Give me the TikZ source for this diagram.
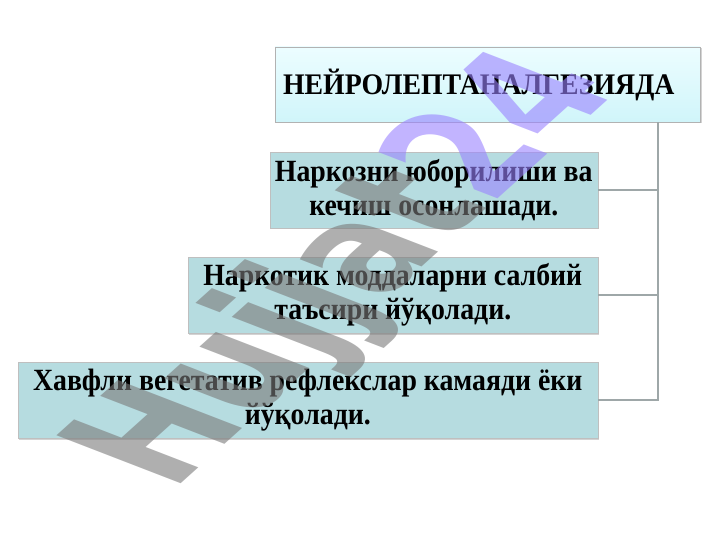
\documentclass[tikz,border=0pt]{standalone}
\usepackage{fontspec}
\setmainfont{Liberation Serif}
\newfontfamily\headfont{Liberation Serif}[FakeStretch=0.93]
\newfontfamily\boxfont{Liberation Serif}[FakeStretch=0.9]
\newfontfamily\wmfont{DejaVu Sans}
\usetikzlibrary{positioning,shadows}
\definecolor{boxfill}{HTML}{B6DCE0}
\definecolor{headtop}{HTML}{ECFDFF}
\definecolor{headbot}{HTML}{D0F5FA}
\definecolor{linegray}{HTML}{9EA7A8}
\definecolor{wmgray}{HTML}{7A7A7A}
\definecolor{wmviolet}{HTML}{9A82FF}
\tikzset{
    %Define style for the heading box
    headrect/.style={
           rectangle,
           draw=black!30, thin,
           top color=headtop,
           bottom color=headbot,
           minimum width=425bp,
           minimum height=75bp,
           text width=409bp,
           inner xsep=8bp,
           align=left,
           font=\headfont\fontsize{30}{34}\selectfont\bfseries,
           drop shadow={shadow xshift=1.5bp, shadow yshift=-1.5bp, opacity=0.35}
           },
    %Define style for the item boxes
    itemrect/.style={
           rectangle,
           draw=black!25, thin,
           fill=boxfill,
           minimum height=76bp,
           inner xsep=4bp,
           align=center,
           font=\boxfont\fontsize{31}{34}\selectfont\bfseries,
           drop shadow={shadow xshift=1.5bp, shadow yshift=-1.5bp, opacity=0.35}
           },
    % Define connector style
    conn/.style={
           draw=linegray,
           line width=2bp},
    % Define watermark style
    wmark/.style={
           inner sep=0pt,
           opacity=0.6,
           font=\wmfont\fontsize{118}{118}\selectfont\bfseries}
}
\begin{document}
\begin{tikzpicture}[x=1bp,y=-1bp]
\useasboundingbox (0,0) rectangle (720,540);

 %nodes
\node[headrect] (1) at (487.5,84.5) {НЕЙРОЛЕПТАНАЛГЕЗИЯДА};
\node[itemrect, minimum width=328bp, anchor=east] (2) at (598,190) {Наркозни юборилиши ва\\кечиш осонлашади.};
\node[itemrect, minimum width=410bp, anchor=east] (3) at (598,295) {Наркотик моддаларни салбий\\таъсири йўқолади.};
\node[itemrect, minimum width=580bp, anchor=east] (4) at (598,400) {Хавфли вегетатив рефлекслар камаяди ёки\\йўқолади.};
\coordinate (spine) at (658,122);

 %connectors
\draw[conn] (1.south -| spine) |- (4.east);
\draw[conn] (spine |- 2.east) -- (2.east);
\draw[conn] (spine |- 3.east) -- (3.east);

 %watermark
\begin{scope}[cm={0.80,0.72,-1.45,0.56,(172,492)}]
\node[wmark, transform shape, anchor=base west] (wm) at (0,0) {\textcolor{wmgray}{Hujjat}\textcolor{wmviolet}{24}};
\end{scope}
\end{tikzpicture}
\end{document}
